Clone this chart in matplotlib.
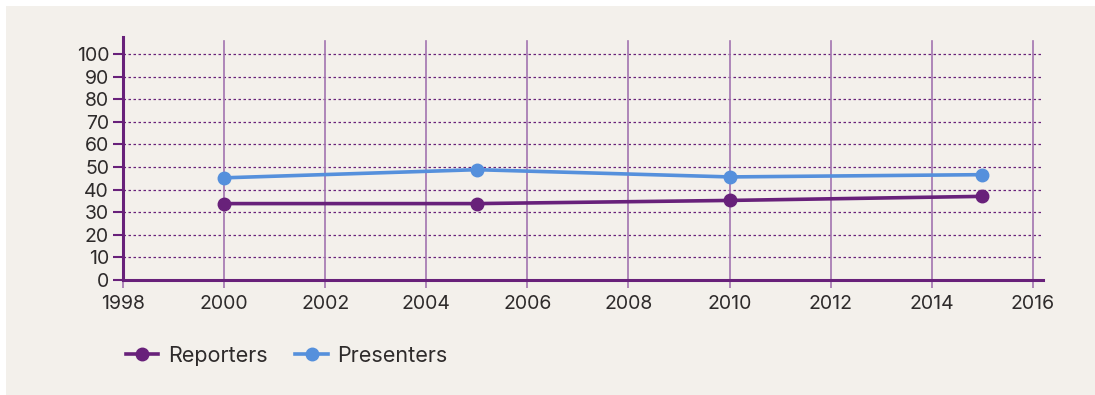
import matplotlib

matplotlib.use("Agg")
import matplotlib.pyplot as plt
from matplotlib.patches import Rectangle

plt.rcParams["font.family"] = ["Inter", "DejaVu Sans"]

years = [2000, 2005, 2010, 2015]
reporters = [33.8, 33.8, 35.2, 37.0]
presenters = [45.2, 48.8, 45.6, 46.6]
x_ticks = list(range(1998, 2017, 2))
y_ticks = list(range(0, 101, 10))

PURPLE = "#68217a"
LIGHT_PURPLE = "#a274b0"
BLUE = "#5590dc"
BG = "#f3f0eb"
TEXT = "#2e2b2b"

fig = plt.figure(figsize=(10.95, 3.95), dpi=100, facecolor="white")
fig.patches.append(Rectangle((6 / 1095, 0), 1, 1 - 6 / 395, transform=fig.transFigure,
                             facecolor=BG, edgecolor="none", zorder=-10))
ax = fig.add_axes([123 / 1095, 115 / 395, 920 / 1095, 243 / 395])
ax.set_facecolor(BG)

ax.plot(years, reporters, color=PURPLE, lw=2.6, marker="o", ms=9, label="Reporters", zorder=4)
ax.plot(years, presenters, color=BLUE, lw=2.6, marker="o", ms=9, label="Presenters", zorder=4)

ax.set_xlim(1998, 2016.2)
ax.set_ylim(0, 107.5)
ax.set_xticks(x_ticks)
ax.set_yticks(y_ticks)

for y in y_ticks[1:]:
    ax.axhline(y, color=PURPLE, lw=0.9, ls=(0, (2, 2)), zorder=1)
for x in x_ticks[1:]:
    ax.axvline(x, ymax=(107.5 - 1.8) / 107.5, color=LIGHT_PURPLE, lw=1.2, zorder=1)

for side in ("top", "right"):
    ax.spines[side].set_visible(False)
ax.spines["left"].set_color(PURPLE)
ax.spines["left"].set_linewidth(2.2)
ax.spines["bottom"].set_color(PURPLE)
ax.spines["bottom"].set_linewidth(2.2)

ax.tick_params(axis="y", length=7, width=1.5, color=PURPLE, labelsize=14, labelcolor=TEXT, pad=3)
ax.tick_params(axis="x", length=6, width=1.2, color=LIGHT_PURPLE, labelsize=14, labelcolor=TEXT, pad=5)

leg = ax.legend(loc="upper left", bbox_to_anchor=(-0.018, -0.19), ncols=2, frameon=False,
                fontsize=15.5, handlelength=1.5, handletextpad=0.45, columnspacing=1.3,
                labelcolor=TEXT)

fig.savefig("out.png", dpi=100, facecolor=fig.get_facecolor())
